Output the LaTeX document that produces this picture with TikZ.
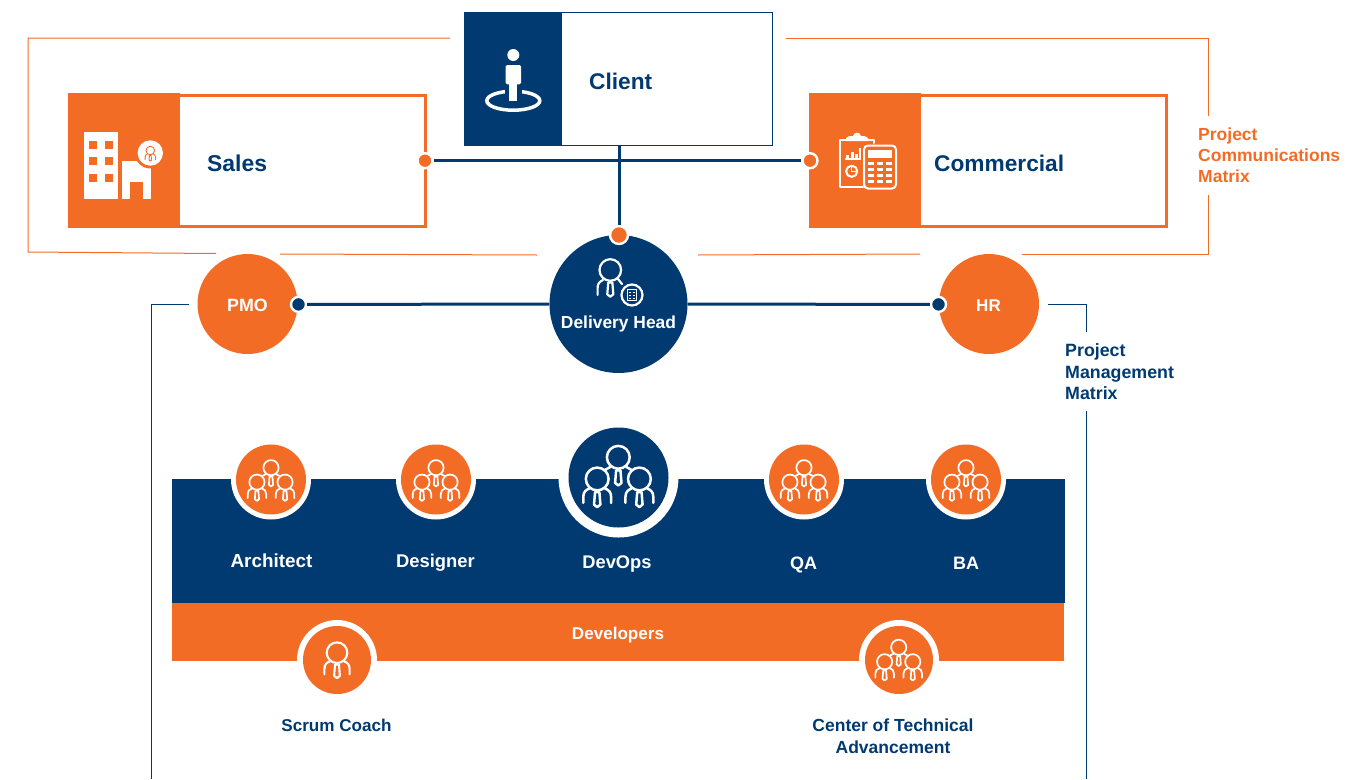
\documentclass[tikz,border=0pt]{standalone}
\usepackage{fontspec}
\setmainfont{Liberation Sans}
\definecolor{navy}{HTML}{003A70}
\definecolor{brand}{HTML}{F36C26}
\newcommand\fs[1]{\fontsize{#1}{#1}\selectfont\bfseries}
\tikzset{
  x=1pt,y=-1pt,
  lbl/.style={inner sep=0pt,anchor=base,font=\fs{#1}},
  lbll/.style={inner sep=0pt,anchor=base west,font=\fs{#1}},
  round/.style={circle,inner sep=0pt,minimum size=#1},
  link/.style={navy,line width=3pt},
  frameO/.style={brand,line width=1pt},
  frameN/.style={navy,line width=1pt},
  block/.style={inner sep=0pt,anchor=north west,minimum width=#1},
  ico/.style={line cap=round,line join=round},
}
% x y radius colour linewidth
\newcommand\personhead[5]{%
  \begin{scope}[shift={(#1,#2)},x=#3pt,y=-#3pt,ico]
    \draw[#4,line width=#5pt] (0,0) circle[radius=#3pt];
    \draw[#4,line width=#5pt] (-.19,1.15) -- (.19,1.15) -- (.28,2.25) -- (0,2.47) -- (-.28,2.25) -- cycle;
  \end{scope}}
\newcommand\shoulders[5]{%
  \begin{scope}[shift={(#1,#2)},x=#3pt,y=-#3pt,ico]
    \draw[#4,line width=#5pt] (-1.22,2.1) -- (-1.22,1.56) .. controls (-1.22,1.15) and (-1,.95) .. (-.68,.84);
    \draw[#4,line width=#5pt] (1.22,2.1) -- (1.22,1.56) .. controls (1.22,1.15) and (1,.95) .. (.68,.84);
  \end{scope}}
\newcommand\person[5]{\personhead{#1}{#2}{#3}{#4}{#5}\shoulders{#1}{#2}{#3}{#4}{#5}}
\newcommand\stubs[5]{%
  \begin{scope}[shift={(#1,#2)},x=#3pt,y=-#3pt,ico]
    \draw[#4,line width=#5pt] (-1.25,1.15) -- (-.68,.84);
    \draw[#4,line width=#5pt] (1.25,1.15) -- (.68,.84);
  \end{scope}}
% centre x, top head y, head radius, linewidth
\newcommand\team[4]{%
  \personhead{#1}{#2}{#3}{white}{#4}\stubs{#1}{#2}{#3}{white}{#4}
  \person{\fpeval{#1-1.85*#3}}{\fpeval{#2+1.9*#3}}{#3}{white}{#4}
  \person{\fpeval{#1+1.85*#3}}{\fpeval{#2+1.9*#3}}{#3}{white}{#4}}
\begin{document}
\begin{tikzpicture}
\useasboundingbox (0,0) rectangle (1365,779);
% frames
\draw[frameO] (450,38) -- (28,38) -- (28,252) -- (216,253.5);
\draw[frameO] (280,254) -- (537,255);
\draw[frameO] (698,255) -- (920,254);
\draw[frameO] (1022,254.5) -- (1208,254.5) -- (1208,195);
\draw[frameO] (1208,116) -- (1208,38) -- (786,38);
\draw[frameN] (189,304.5) -- (151,304.5) -- (151,779);
\draw[frameN] (1048,304.5) -- (1086,304.5) -- (1086,332);
\draw[frameN] (1086,411) -- (1086,779);
% top boxes
\node[block=308pt,minimum height=133pt,draw=navy,line width=1pt,fill=white] (clientbox) at (464,12) {};
\fill[navy] (464,12) rectangle (562,146);
\node[block=356pt,minimum height=131pt,draw=brand,line width=3pt,fill=white] (salesbox) at (68,94) {};
\fill[brand] (68,93) rectangle (180,228);
\node[block=356pt,minimum height=131pt,draw=brand,line width=3pt,fill=white] (commbox) at (809,94) {};
\fill[brand] (809,93) rectangle (921,228);
% circles
\node[round=100pt,fill=brand] (pmo) at (247.5,304) {};
\node[round=100pt,fill=brand] (hr) at (989,304) {};
\node[round=138pt,fill=navy] (delivery) at (618.5,304) {};
% dots
\node[round=15pt,fill=brand,draw=white,line width=2.4pt] (dotsales) at (425,160.7) {};
\node[round=15pt,fill=brand,draw=white,line width=2.4pt] (dotcomm) at (810,160.7) {};
\node[round=18pt,fill=brand,draw=white,line width=2.4pt] (dotdel) at (619,235) {};
\node[round=15pt,fill=navy,draw=white,line width=2.4pt] (dotpmo) at (298.5,304.4) {};
\node[round=15pt,fill=navy,draw=white,line width=2.4pt] (dothr) at (938.5,304.4) {};
\coordinate (clientfoot) at (619,146);
% connectors
\draw[link] (dotsales) -- (dotcomm);
\draw[link] (clientfoot) -- (dotdel);
\draw[link] (dotpmo) -- (delivery);
\draw[link] (delivery) -- (dothr);
% labels top
\node[lbll=22.7,text=navy] (clienttxt) at (589,89) {Client};
\node[lbll=22.9,text=navy] (salestxt) at (207,171) {Sales};
\node[lbll=22.7,text=navy] (commtxt) at (934,171) {Commercial};
\node[lbl=17.8,text=white] (pmotxt) at (247.5,311) {PMO};
\node[lbl=17,text=white] (hrtxt) at (988.5,311) {HR};
\node[lbl=17.4,text=white] (deltxt) at (618.5,328.5) {Delivery Head};
\node[lbll=17.5,text=brand] at (1198,140.7) {Project};
\node[lbll=17.5,text=brand] at (1198,161.7) {Communications};
\node[lbll=17.5,text=brand] at (1198,182.7) {Matrix};
\node[lbll=17.8,text=navy] at (1065,356.7) {Project};
\node[lbll=17.8,text=navy] at (1065,378) {Management};
\node[lbll=17.8,text=navy] at (1065,399.3) {Matrix};
% client icon
\begin{scope}
  \draw[white,line width=3.5pt] (513.3,100.7) ellipse[x radius=26.5pt,y radius=9.5pt];
  \fill[navy] (504.5,85) rectangle (522,97);
  \fill[white,rounded corners=1.5pt] (505.7,65) rectangle (521,84.3);
  \fill[white] (509.3,80) rectangle (517.3,100.7);
  \fill[white] (513.3,55) circle[radius=6pt];
\end{scope}
% sales icon
\begin{scope}
  \fill[white] (84,132.3) rectangle (118,198.7);
  \foreach \yy in {140.7,157.3,173.7}{
    \fill[brand] (89,\yy) rectangle +(8,8);
    \fill[brand] (105.3,\yy) rectangle +(8,8);}
  \fill[white] (121.7,161) rectangle (150.7,198.7);
  \fill[brand] (130,182.3) rectangle (142.7,198.7);
  \fill[brand] (150.3,153) circle[radius=15.5pt];
  \fill[white] (150.3,153) circle[radius=12.7pt];
  \person{150.3}{150.5}{4.3}{brand}{.9}
\end{scope}
% commercial icon
\begin{scope}[ico]
  \draw[white,line width=2pt] (863,186.5) -- (840,186.5) -- (840,139.5) -- (846,139.5);
  \draw[white,line width=2pt] (868,139.5) -- (874,139.5) -- (874,143);
  \fill[white] (846,141) -- (846,138) .. controls (849,136) .. (853,136) .. controls (854,131.5) and (860,131.5) .. (861,136) .. controls (865,136) .. (868,138) -- (868,141) -- cycle;
  \fill[white] (845,158) rectangle (861,160);
  \fill[white] (846,155) rectangle (848.8,158);
  \fill[white] (851,152) rectangle (853.8,158);
  \fill[white] (855,153.5) rectangle (857.8,158);
  \fill[white] (858.5,148) rectangle (861.3,158);
  \draw[white,line width=2pt] (851.7,171.3) circle[radius=5.6pt];
  \draw[white,line width=1.4pt] (851.7,166.5) -- (851.7,171.3) -- (856,171.3);
  \draw[white,line width=2pt,fill=brand,rounded corners=4pt] (864,145.5) rectangle (896,188.5);
  \fill[white] (868,150) rectangle (891.7,157.7);
  \foreach \yy in {162,168,174,180}{
    \fill[white] (868,\yy) rectangle +(5.5,2.8);
    \fill[white] (877.2,\yy) rectangle +(5.5,2.8);
    \fill[white] (886.2,\yy) rectangle +(5.5,2.8);}
\end{scope}
% delivery head icon
\personhead{610.3}{270}{10.8}{white}{2.2}
\begin{scope}[ico]
  \draw[white,line width=2.2pt] (597.6,295) -- (597.6,288) .. controls (597.6,284) and (599,282) .. (603,280);
  \draw[white,line width=2.2pt] (618,279) -- (622,284);
  \node[round=21pt,fill=navy,draw=white,line width=2.2pt] (miniicon) at (632,295) {};
  \draw[white,line width=.9pt] (627.5,289.5) rectangle (636.5,300.5);
  \foreach \yy in {292,295,298}{
    \fill[white] (629,\yy-.5) rectangle +(2,1);
    \fill[white] (633,\yy-.5) rectangle +(2,1);}
\end{scope}
% bands
\node[block=893pt,minimum height=124pt,fill=navy] (navyband) at (172,479) {};
\node[block=892pt,minimum height=58pt,fill=brand] (orangeband) at (172,603) {};
% role circles
\foreach \nm/\cx in {arch/271,des/436,qa/804,ba/966}{
  \node[round=80pt,fill=white] (\nm ring) at (\cx,479.5) {};
  \node[round=70pt,fill=brand] (\nm) at (\cx,479.5) {};
}
\node[round=120pt,fill=white] (devopsring) at (618.5,477.5) {};
\node[round=100pt,fill=navy] (devops) at (618.5,477.5) {};
\node[round=80pt,fill=white] (scrumring) at (337,660) {};
\node[round=68pt,fill=brand] (scrum) at (337,660) {};
\node[round=80pt,fill=white] (ctaring) at (899,660) {};
\node[round=68pt,fill=brand] (cta) at (899,660) {};
\team{271}{467.7}{7.6}{1.7}
\team{436}{467.7}{7.6}{1.7}
\team{804}{467.7}{7.6}{1.7}
\team{966}{467.7}{7.6}{1.7}
\team{618.3}{457.3}{11.4}{2.5}
\person{337}{652.7}{10.3}{white}{2.1}
\team{898.7}{647.3}{7.6}{1.7}
% band labels
\node[lbl=18.9,text=white] (archtxt) at (271.5,567.5) {Architect};
\node[lbl=18.4,text=white] (destxt) at (435.5,567.5) {Designer};
\node[lbl=18.3,text=white] (devtxt) at (617,568.5) {DevOps};
\node[lbl=18,text=white] (qatxt) at (803.5,569.5) {QA};
\node[lbl=18,text=white] (batxt) at (966,569.5) {BA};
\node[lbl=17.1,text=white] (devstxt) at (618,639.5) {Developers};
\node[lbl=17.1,text=navy] (scrumtxt) at (336.5,731) {Scrum Coach};
\node[lbl=17.5,text=navy] (ctatxta) at (893,731) {Center of Technical};
\node[lbl=17.5,text=navy] (ctatxtb) at (893,753) {Advancement};
\end{tikzpicture}
\end{document}
